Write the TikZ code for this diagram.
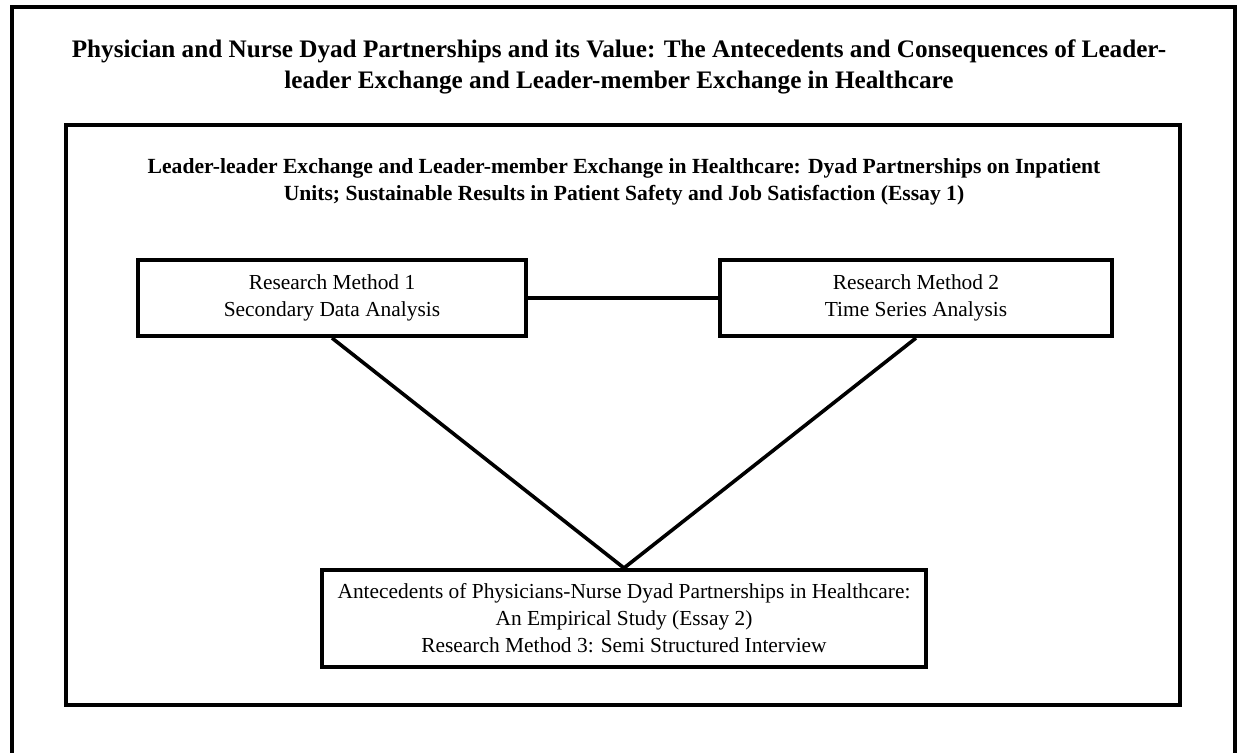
\documentclass[tikz,border=0pt]{standalone}
\usepackage{fontspec}
\setmainfont{Liberation Serif}
\begin{document}
\begin{tikzpicture}[x=0.5pt,y=-0.5pt,
  frameline/.style={line width=2pt,line join=miter},
  methodbox/.style={draw,line width=2pt,inner sep=0pt,align=center,
    font=\fontsize{10.7}{13.5}\selectfont},
  link/.style={line width=1.8pt},
  heading/.style={align=center,inner sep=0pt,font=\bfseries\fontsize{12.6}{15.5}\selectfont},
  subheading/.style={align=center,inner sep=0pt,font=\bfseries\fontsize{10.8}{13.5}\selectfont}]
\useasboundingbox (0,0) rectangle (1238,752);
% outer page frame (its lower edge runs off the page)
\draw[frameline] (12,770) -- (12,7) -- (1235,7) -- (1235,770);
% title
\node[heading] (title) at (619,66.5) {Physician and Nurse Dyad Partnerships and its Value: The Antecedents and Consequences of Leader-\\leader Exchange and Leader-member Exchange in Healthcare};
% essay frame
\draw[frameline] (66,125) rectangle (1180,705);
\node[subheading] (essay) at (624,181.5) {Leader-leader Exchange and Leader-member Exchange in Healthcare: Dyad Partnerships on Inpatient\\Units; Sustainable Results in Patient Safety and Job Satisfaction (Essay 1)};
% method boxes
\node[methodbox,minimum width=194pt,minimum height=38pt] (m1) at (332,298) {Research Method 1\\Secondary Data Analysis};
\node[methodbox,minimum width=196pt,minimum height=38pt] (m2) at (916,298) {Research Method 2\\Time Series Analysis};
\node[methodbox,minimum width=302pt,minimum height=48.5pt] (m3) at (624,618.5) {Antecedents of Physicians-Nurse Dyad Partnerships in Healthcare:\\An Empirical Study (Essay 2)\\Research Method 3: Semi Structured Interview};
% connectors
\draw[link] (m1.east) -- (m2.west);
\draw[link] (m1.south) -- (m3.north);
\draw[link] (m2.south) -- (m3.north);
\end{tikzpicture}
\end{document}
